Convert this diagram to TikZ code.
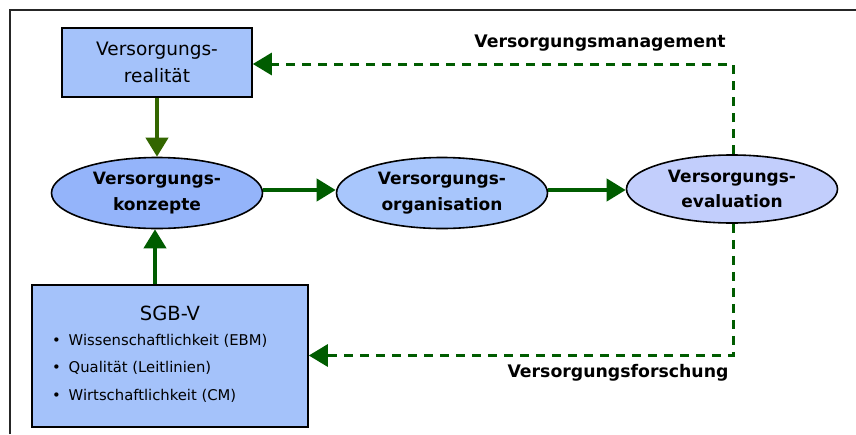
\documentclass[tikz,border=0pt]{standalone}
\usepackage{fontspec}
\setmainfont{DejaVu Sans}
\usetikzlibrary{arrows.meta,shapes.geometric}
\definecolor{boxblue}{HTML}{A4C2FA}
\definecolor{konzblue}{HTML}{94B4FA}
\definecolor{orgblue}{HTML}{A8C6FC}
\definecolor{evalblue}{HTML}{C2CEFC}
\definecolor{dgreen}{HTML}{005C00}
\definecolor{ogreen}{HTML}{336600}
\tikzset{
  boxnode/.style={draw=black, line width=1.6pt, fill=boxblue, inner sep=0pt, align=center,
    font=\fontsize{18.5}{27}\selectfont},
  ellnode/.style={ellipse, draw=black, line width=1.6pt, inner sep=0pt, align=center,
    minimum width=211pt, minimum height=71pt, font=\bfseries\fontsize{17}{25.5}\selectfont},
  flow/.style={draw=dgreen, line width=4pt, -{Triangle[length=19pt,width=22pt]}},
  feedback/.style={draw=dgreen, line width=3pt, dash pattern=on 9pt off 7pt,
    -{Triangle[length=19pt,width=22pt]}},
  lbl/.style={font=\bfseries\fontsize{17.3}{20}\selectfont, inner sep=0pt},
  bul/.style={anchor=west, inner sep=0pt, font=\fontsize{14.8}{18}\selectfont},
}
\begin{document}
\begin{tikzpicture}[x=1pt,y=-1pt]
\useasboundingbox (0,0) rectangle (856,434);
% frame
\draw[line width=2pt, black!85] (10,434) -- (10,9.5) -- (856,9.5);
% nodes
\node[boxnode, minimum width=190pt, minimum height=69pt] (real) at (157,62.5) {Versorgungs-\\realität};
\node[ellnode, fill=konzblue] (konz) at (157,193) {Versorgungs-\\konzepte};
\node[ellnode, fill=orgblue] (org) at (442,193) {Versorgungs-\\organisation};
\node[ellnode, fill=evalblue, minimum height=68pt] (eval) at (732,189) {Versorgungs-\\evaluation};
\node[boxnode, minimum width=276pt, minimum height=142pt] (sgb) at (170,356) {};
\node[inner sep=0pt, font=\fontsize{19.5}{22}\selectfont] (sgbt) at (170,313) {SGB-V};
\node[bul] (b1) at (52,341) {\makebox[16.5pt][l]{•}Wissenschaftlichkeit (EBM)};
\node[bul] (b2) at (52,368) {\makebox[16.5pt][l]{•}Qualität (Leitlinien)};
\node[bul] (b3) at (52,395.5) {\makebox[16.5pt][l]{•}Wirtschaftlichkeit (CM)};
\node[lbl] (lman) at (600,43) {Versorgungsmanagement};
\node[lbl] (lfor) at (618,373) {Versorgungsforschung};
% corner coordinates
\coordinate (c1) at (733,64);
\coordinate (c2) at (733,355.5);
% connectors
\draw[flow, draw=ogreen] (real.south) -- (konz.north);
\draw[flow] (sgb.north -| 155,0) -- (konz.south -| 155,0);
\draw[flow] (konz.east |- 0,190) -- (org.west |- 0,190);
\draw[flow] (org.east |- 0,190) -- (eval.west |- 0,190);
\draw[feedback] (eval.north -| c1) -- (c1) -- (real.east |- c1);
\draw[feedback] (eval.south -| c2) -- (c2) -- (sgb.east |- c2);
\end{tikzpicture}
\end{document}
